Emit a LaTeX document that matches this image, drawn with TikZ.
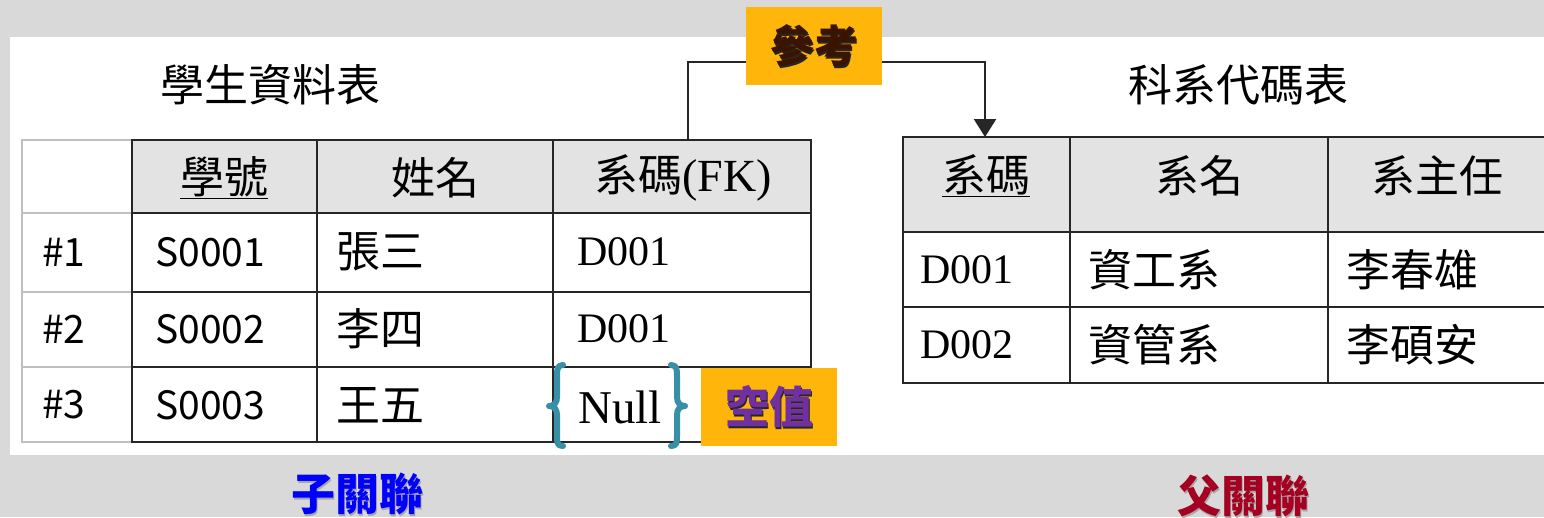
\documentclass[tikz,border=0pt]{standalone}
\usepackage{fontspec}
\setmainfont{Liberation Serif}
\newfontfamily\cjk{Noto Sans CJK TC}
\usetikzlibrary{arrows.meta}
\definecolor{bgray}{HTML}{D9D9D9}
\definecolor{hdrgray}{HTML}{E3E3E3}
\definecolor{tagorange}{HTML}{FFB50A}
\definecolor{brown}{HTML}{3A1400}
\definecolor{purp}{HTML}{7030A0}
\definecolor{teal}{HTML}{3790A6}
\definecolor{darkred}{HTML}{A50021}
\begin{document}
\begin{tikzpicture}[x=1pt,y=-1pt,
  zh/.style={font=\cjk\fontsize{44}{48}\selectfont, inner sep=0pt},
  lat/.style={font=\cjk\fontsize{39}{44}\selectfont, inner sep=0pt},
  ser/.style={font=\fontsize{42}{46}\selectfont, inner sep=0pt},
  tabline/.style={line width=2.6pt, draw=black!85},
  liteline/.style={line width=2pt, draw=black!25},
  tagbox/.style={fill=tagorange, inner sep=0pt, minimum width=136pt, minimum height=78pt},
  tagtext/.style={font=\cjk\bfseries\fontsize{44}{48}\selectfont, inner sep=0pt},
  shadowtext/.style={font=\cjk\bfseries\fontsize{44}{48}\selectfont, inner sep=0pt, text=black!85},
  softshadow/.style={font=\cjk\bfseries\fontsize{44}{48}\selectfont, inner sep=0pt, text=black!35},
  bracestyle/.style={line width=6pt, draw=teal, line cap=round, line join=round}
]
\useasboundingbox (0,0) rectangle (1544,517);
\fill[bgray] (0,0) rectangle (1544,517);
\fill[white] (10,37) rectangle (1544,455);

% ---------- left table ----------
\node[zh] (ltitle) at (270,85) {學生資料表};
\fill[hdrgray] (132,140) rectangle (811,213);
\draw[liteline] (132,140) -- (22,140) -- (22,442) -- (132,442);
\draw[liteline] (22,213) -- (132,213);
\draw[liteline] (22,292) -- (132,292);
\draw[liteline] (22,367) -- (132,367);
\draw[tabline] (132,140) rectangle (811,442);
\draw[tabline] (317,140) -- (317,442);
\draw[tabline] (553,140) -- (553,442);
\draw[tabline] (132,213) -- (811,213);
\draw[tabline] (132,292) -- (811,292);
\draw[tabline] (132,367) -- (811,367);

\node[zh] (lh1) at (224,178) {\underline{學號}};
\node[zh] (lh2) at (435,178) {姓名};
\node[zh] (lh3) at (683,178) {系碼\fontsize{46}{50}\selectfont\rmfamily(FK)};

\node[lat, anchor=west] (r1n) at (42,252) {\#1};
\node[lat, anchor=west] (r2n) at (42,329) {\#2};
\node[lat, anchor=west] (r3n) at (42,405) {\#3};
\node[lat, anchor=west] (r1a) at (155,252) {S0001};
\node[lat, anchor=west] (r2a) at (155,329) {S0002};
\node[lat, anchor=west] (r3a) at (155,405) {S0003};
\node[zh, anchor=west] (r1b) at (336,252) {張三};
\node[zh, anchor=west] (r2b) at (336,329) {李四};
\node[zh, anchor=west] (r3b) at (336,405) {王五};
\node[ser, anchor=west] (r1c) at (577,252) {D001};
\node[ser, anchor=west] (r2c) at (577,329) {D001};
\node[ser, anchor=west, font=\fontsize{47}{50}\selectfont] (r3c) at (578,407) {Null};

% braces around Null
\draw[bracestyle] (563,365) .. controls (557,365) and (557,370) .. (557,376)
  -- (557,397) .. controls (557,403) and (554,406) .. (549,406)
  .. controls (554,406) and (557,409) .. (557,415)
  -- (557,436) .. controls (557,442) and (557,446) .. (563,446);
\draw[bracestyle] (671,365) .. controls (677,365) and (677,370) .. (677,376)
  -- (677,397) .. controls (677,403) and (680,406) .. (685,406)
  .. controls (680,406) and (677,409) .. (677,415)
  -- (677,436) .. controls (677,442) and (677,446) .. (671,446);

% 空值 tag
\node[tagbox] (nullbox) at (769,407) {};
\node[shadowtext] (nullshadow) at (770.5,408.5) {空值};
\node[tagtext, text=purp] (nulltext) at (769,407) {空值};

% ---------- right table ----------
\node[zh] (rtitle) at (1238,85) {科系代碼表};
\fill[hdrgray] (903,137) rectangle (1550,232);
\draw[tabline] (903,137) rectangle (1550,383);
\draw[tabline] (1070,137) -- (1070,383);
\draw[tabline] (1328,137) -- (1328,383);
\draw[tabline] (903,232) -- (1550,232);
\draw[tabline] (903,307) -- (1550,307);

\node[zh] (rh1) at (986,176) {\underline{系碼}};
\node[zh] (rh2) at (1199,176) {系名};
\node[zh] (rh3) at (1437,176) {系主任};
\node[ser, anchor=west] (d1a) at (920,270) {D001};
\node[ser, anchor=west] (d2a) at (920,345) {D002};
\node[zh, anchor=west] (d1b) at (1088,270) {資工系};
\node[zh, anchor=west] (d2b) at (1088,345) {資管系};
\node[zh, anchor=west] (d1c) at (1346,270) {李春雄};
\node[zh, anchor=west] (d2c) at (1346,345) {李碩安};

% ---------- reference arrow ----------
\coordinate (fkTop) at (688,140);
\coordinate (bendA) at (688,62);
\coordinate (bendB) at (985,62);
\coordinate (pkTop) at (985,137);
\draw[line width=2.6pt, draw=black!85, -{Triangle[width=22pt,length=18pt]}]
  (fkTop) -- (bendA) -- (bendB) -- (pkTop);
\node[tagbox] (refbox) at (814,46) {};
\node[shadowtext] (refshadow) at (815.2,47.2) {參考};
\node[tagtext, text=brown] (reftext) at (814,46) {參考};

% ---------- bottom labels ----------
\node[softshadow] (childshadow) at (358.5,495.5) {子關聯};
\node[tagtext, text=blue] (childlabel) at (357,494) {子關聯};
\node[softshadow] (parentshadow) at (1244.5,497.5) {父關聯};
\node[tagtext, text=darkred] (parentlabel) at (1243,496) {父關聯};
\end{tikzpicture}
\end{document}
